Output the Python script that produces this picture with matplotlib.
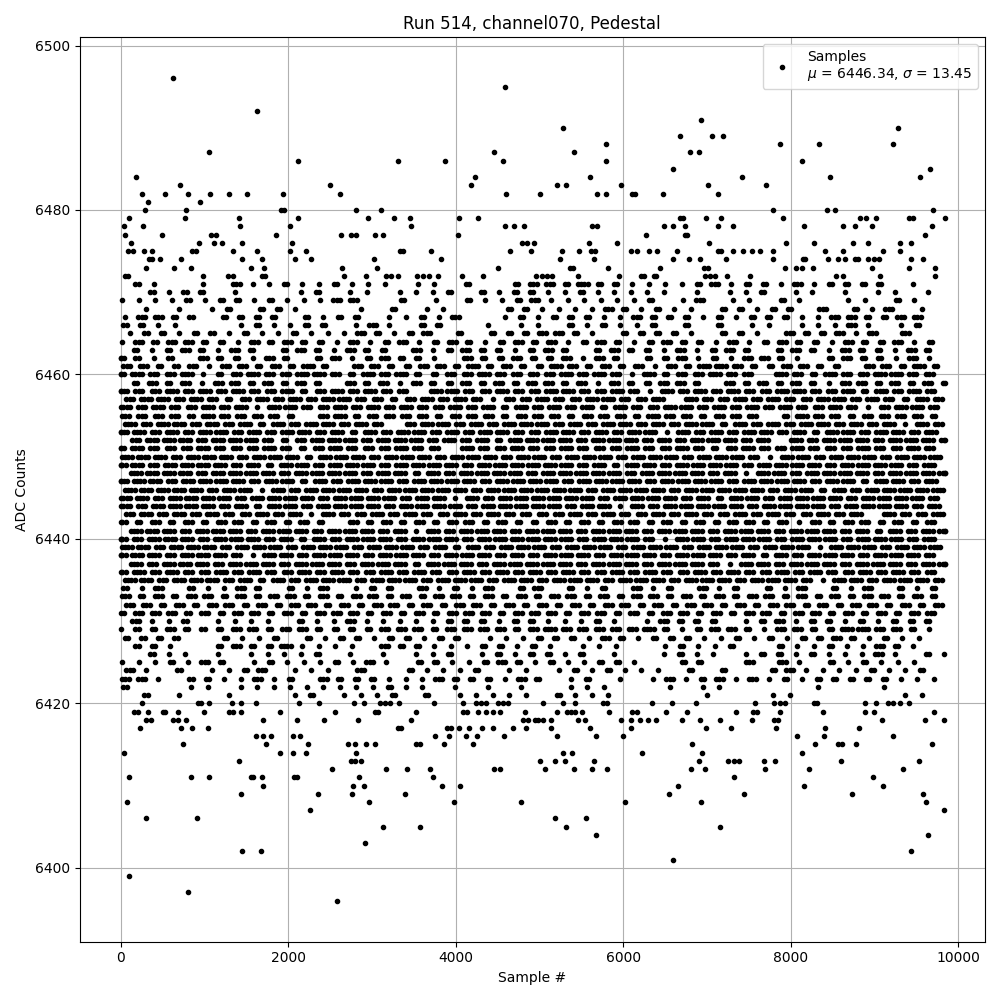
import matplotlib
matplotlib.use("Agg")
import matplotlib.pyplot as plt
import numpy as np

title = "Run 514, channel070, Pedestal"
label = "Samples\n$\\mu$ = 6446.34, $\\sigma$ = 13.45"

# sparse levels above the dense band: ADC value -> sample numbers
top_tail = {
    6496: [625],
    6495: [4592],
    6492: [1629],
    6491: [6933],
    6490: [5284, 9275],
    6489: [6682, 7065, 7195],
    6488: [5799, 7865, 8331, 9215],
    6487: [1055, 4460, 5416, 6802, 6909],
    6486: [2119, 3313, 3875, 4568, 5799, 8128],
    6485: [6599, 9657],
    6484: [183, 4233, 5607, 7423, 8462, 9538],
    6483: [709, 2501, 4185, 5213, 5320, 5977, 7017, 7698],
    6482: [255, 530, 805, 1067, 1294, 1509, 1939, 2620, 4603, 5010, 5691, 5799, 6109, 6145, 6479, 7125],
    6481: [326, 948],
    6480: [291, 781, 1920, 1947, 2811, 3110, 7782, 8427, 8522, 9693],
    6479: [100, 769, 1418, 2119, 2955, 3266, 3457, 4043, 4270, 6682, 6718, 6993, 7172, 7901, 8821, 8892,
           9012, 9406, 9454, 9836],
    6478: [40, 267, 1426, 2023, 3469, 4592, 4692, 4818, 5631, 5691, 6491, 6599, 6742, 7136, 7315, 8152,
           8618, 8761, 8964, 9681],
    6477: [52, 494, 1079, 1143, 1856, 2633, 2752, 2811, 3039, 3134, 4031, 6276, 6742, 6766, 9597],
    6476: [124, 936, 1115, 1211, 1450, 2047, 4787, 4847, 4931, 5595, 5930, 7029, 7937, 8271, 8737, 8916,
           9298, 9430],
    6475: [88, 147, 279, 374, 852, 900, 1342, 1629, 2023, 2214, 3337, 3373, 3707, 4651, 4902, 5272, 5476,
           5619, 5667, 6097, 6169, 6312, 6408, 6647, 7125, 7172, 7304, 7435, 7542, 7638, 7793, 8403, 8618,
           9096, 9298],
    6474: [338, 374, 469, 720, 1454, 1688, 2083, 2274, 3026, 3826, 5249, 5655, 6599, 6790, 6921, 7232,
           7782, 8140, 8164, 8439, 8558, 8642, 8761, 8797, 8916, 8988, 9048, 9430, 9574],
    6473: [303, 637, 840, 1557, 1708, 2644, 3063, 4508, 5368, 5404, 5822, 6443, 6969, 7017, 7925, 8056,
           8128, 8259, 8964, 9406, 9717],
    6472: [52, 88, 983, 1282, 1342, 1688, 1724, 2668, 2931, 3170, 3229, 3313, 3540, 3612, 3684, 3791,
           4078, 4329, 4962, 5034, 5093, 5153, 5464, 5954, 6216, 6252, 6372, 6396, 6981, 7041, 7100, 7244,
           7515, 8534, 8618, 9060, 9717],
}

# sparse levels below the dense band
bottom_tail = {
    6420: [255, 924, 960, 1055, 1330, 1438, 1617, 2131, 2370, 2788, 2907, 3098, 3158, 3218, 3325, 3743,
           4090, 4245, 4305, 4365, 4508, 4568, 4628, 5046, 5285, 5428, 5763, 5810, 6348, 6587, 6874, 7567,
           7794, 7865, 7925, 8272, 8307, 8881, 9012, 9156, 9215, 9299, 9406],
    6419: [159, 207, 327, 506, 530, 685, 996, 1294, 1342, 1438, 1904, 2561, 3039, 3074, 3528, 4090, 4138,
           4269, 4365, 4448, 4532, 4831, 5213, 5333, 5380, 5428, 5512, 5834, 6109, 6169, 6515, 6766, 7340,
           7543, 7602, 7865, 8379, 8881, 8988, 9705],
    6418: [303, 362, 625, 685, 781, 1700, 2107, 2429, 2836, 3469, 4807, 4867, 4950, 4986, 5046, 5141,
           5464, 5548, 5978, 6097, 6205, 6300, 6396, 6695, 6910, 7149, 7531, 7794, 7841, 9084, 9598, 9825],
    6417: [231, 721, 852, 1043, 3313, 3349, 3899, 3947, 4042, 4162, 4317, 4448, 4687, 4843, 5141, 5607,
           6097, 6993, 7280, 7829, 8403, 8809],
    6416: [1617, 1700, 1796, 2059, 2143, 3755, 3923, 4126, 4257, 4580, 5213, 5679, 6001, 8069, 8391, 9215],
    6415: [745, 1736, 2238, 2716, 2800, 2931, 3039, 3528, 3576, 3863, 4209, 6826, 8283, 8558, 8606, 8773,
           9681],
    6414: [40, 1904, 2059, 2214, 2812, 5285, 5392, 6229, 6945, 8128],
    6413: [1414, 2752, 2800, 2871, 5010, 5189, 5309, 5655, 6898, 7256, 7316, 7376, 7674, 7817, 8594, 9526],
    6412: [2525, 3170, 3421, 3696, 4460, 4532, 5070, 5416, 5631, 5810, 6814, 6981, 7686, 8212, 9335],
    6411: [100, 840, 1055, 1557, 1581, 1689, 2071, 2107, 2848, 3732, 7316, 8976],
    6410: [1700, 2776, 2907, 3839, 4054, 6659, 8152, 9096],
    6409: [1438, 2358, 2764, 3397, 6551, 7447, 8726, 9574],
    6408: [76, 2967, 3982, 4783, 6025, 6922, 9610],
    6407: [2262, 9825],
    6406: [303, 912, 5189, 5560],
    6405: [3134, 3576, 5321, 7149],
    6404: [5679, 9634],
    6403: [2919],
    6402: [1450, 1677, 9430],
    6401: [6599],
    6399: [100],
    6397: [804],
    6396: [2585],
}

# dense band, one string per ADC level from 6471 down to 6421:
# each digit = number of samples seen in a block of ~197 samples
core_top = 6471
core_rows = [
    "0210010311211211101102002" + "3324221111231221312222010",  # 6471
    "0212201000120110111202122" + "1121111101011201101011010",
    "1111212212111330020102112" + "3111111201301102100110210",
    "0101012022100010201100022" + "1111321211022122030213010",
    "1332202222021220112130012" + "1222113222121222113322330",
    "2211000121122013102200101" + "1021211202020110111310120",  # 6466
    "1221221211211132123020222" + "3321022221022103223130300",
    "1323322132322131231232123" + "2312321232213123221322312",
    "2123213202321322031232212" + "3202322131232023213221320",
    "3212032213202312322103223" + "2231320223121332102322131",
    "3322313323242033223324232" + "2432323132443223322033242",  # 6461
    "3433412343344324342233433" + "3343431423343304324334433",
    "2323133232320323132232323" + "3231322332032323213323232",
    "4334343433423434330443343" + "3443343143434334433424343",
    "3443432343434433234343133" + "4334433404334343344343243",
    "4343343414433434343343424" + "3434243344343434334313443",  # 6456
    "3333243333203423333233323" + "3323332433233302433233332",
    "4344343424344343034434344" + "4343443434424343443434143",
    "4434344343443424344343443" + "3443434414343443424434434",
    "3444344432344434443434244" + "4434443434443404344434443",
    "3433343334323433343304334" + "3343334334323433433343343",  # 6451
    "4443444344424443444344434" + "4344434443444314434443444",
    "4434444342443444344443444" + "4443424434444344443444434",
    "4444344443444434424344443" + "4444434444341443444434444",
    "4443444434424344434444344" + "4434444344443444434424434",
    "4444434414344443444443444" + "4443444434444434424344444",  # 6446
    "4434444344443444434414344" + "4444344443424434444344443",
    "4344443424434444344443444" + "4434414344444344443444434",
    "3434343343414334343343433" + "3343433434334343343404334",
    "3232323323232032323233232" + "2323233232323323132332323",
    "4443444344434443414344434" + "4434443444344434443424344",  # 6441
    "4344434443424344434443444" + "4443444314434443444344434",
    "4434443444344434443424344" + "4344434443444344414443444",
    "4443444314434443444344434" + "3444344434443424344434443",
    "4344434443444344424443444" + "4434443444314434443444344",
    "3434334343343433434334343" + "4343343433434334343343433",  # 6436
    "4434443424344434443444344" + "3444344434443444314434443",
    "2130211320213012203121302" + "3021203120312021302130212",
    "3232332323323233232332323" + "2332323323232332323233232",
    "3323233232332323323233232" + "3232332323323233232332323",
    "2333232332323332323233323" + "3323323233232332332323233",  # 6431
    "3112011110211311111222122" + "1112101322201231221212220",
    "1223222332332222333233332" + "3433333421233213322443321",
    "2222002112021221221220111" + "2221321222112121223212110",
    "0221002322411110322111221" + "2101110012112002112113210",
    "0211010111120101011201212" + "2120100121101221211131021",  # 6426
    "1112132012111213102211232" + "1211221002200303102121110",
    "3102011230111030021112011" + "0121211102020023111121120",
    "3310221131203222111322213" + "2012010131231312122222111",
    "2000110111111111211010101" + "0011100010110000010001000",
    "0201001000120111202011111" + "0211100000100011000000110",  # 6421
]

block = 9850 / 50
step = 40

xs = []
ys = []
for level, samples in list(top_tail.items()) + list(bottom_tail.items()):
    xs += samples
    ys += [level] * len(samples)

for i, row in enumerate(core_rows):
    level = core_top - i
    # stagger the blocks from row to row so they do not line up in columns
    shift = (((7 * i * i + 3 * i) % 11) / 11 - 0.5) * block
    for b, ch in enumerate(row):
        n = int(ch)
        centre = (b + 0.5) * block + shift
        for j in range(n):
            x = centre + (j - (n - 1) / 2) * step
            xs.append(min(max(x, 0), 9835))
            ys.append(level)

xs = np.array(xs)
ys = np.array(ys)

fig, ax = plt.subplots(figsize=(10, 10), dpi=100)
ax.plot(xs, ys, 'k.', label=label)
ax.set_title(title)
ax.set_xlabel("Sample #")
ax.set_ylabel("ADC Counts")
ax.set_xlim(-491, 10318)
ax.grid(True)
ax.legend(loc="upper right")
plt.tight_layout()
plt.savefig("out.png", dpi=100)
